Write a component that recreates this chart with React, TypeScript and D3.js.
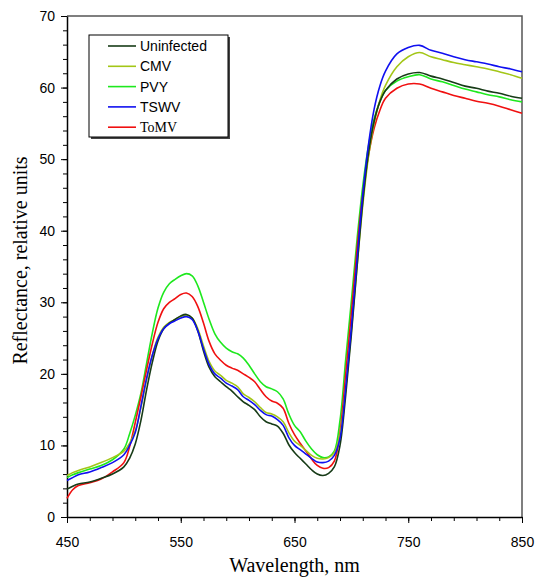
import React, { useRef, useEffect } from "react";
import * as d3 from "d3";

// wavelength grid, nm
const wavelengths = [
  450, 455, 460, 470, 480, 490,
  500, 505, 510, 515, 520, 525, 530, 535, 540, 545, 550, 555, 560, 565, 570, 575, 580, 585, 590, 595,
  600, 605, 610, 615, 620, 625, 630, 635, 640, 645, 650, 655, 660, 665, 670, 675, 680, 685, 690, 695,
  700, 705, 710, 715, 720, 725, 730,
  740, 750, 760, 770, 780, 790, 800, 810, 820, 830, 840, 850,
];

const uninfected = [
  3.9, 4.3, 4.6, 4.9, 5.4, 6.0,
  7.0, 8.2, 10.2, 13.5, 17.8, 21.6, 24.6, 26.3, 27.1, 27.6, 28.1, 28.3, 27.8, 26.0, 23.2, 20.9, 19.6, 18.9, 18.2, 17.6,
  16.8, 16.1, 15.6, 15.0, 14.0, 13.3, 13.0, 12.7, 11.7, 10.1, 9.0, 8.2, 7.4, 6.6, 6.0, 5.8, 6.1, 7.0, 10.0, 17.0,
  25.5, 35.0, 44.0, 50.8, 55.3, 58.0, 59.6,
  61.2, 61.9, 62.1, 61.6, 61.2, 60.7, 60.2, 59.9, 59.5, 59.2, 58.8, 58.5,
];

const cmv = [
  5.8, 6.2, 6.5, 7.0, 7.6, 8.3,
  9.2, 10.3, 12.0, 15.3, 19.2, 22.6, 25.1, 26.5, 27.2, 27.6, 28.0, 28.2, 27.8, 26.3, 23.9, 21.7, 20.4, 19.8, 19.1, 18.7,
  18.2, 17.2, 16.7, 16.1, 15.3, 14.6, 14.4, 14.0, 13.3, 11.8, 10.6, 10.0, 9.3, 8.6, 8.2, 8.1, 8.3, 9.0, 11.5, 18.0,
  26.0, 35.0, 43.5, 50.3, 55.0, 58.2, 60.3,
  62.9, 64.3, 64.9, 64.3, 63.9, 63.5, 63.2, 62.9, 62.6, 62.2, 61.8, 61.3,
];

const pvy = [
  5.5, 5.9, 6.2, 6.7, 7.2, 8.0,
  9.5, 11.6, 14.2, 17.3, 21.5, 25.7, 29.2, 31.4, 32.6, 33.2, 33.7, 34.0, 33.7, 32.3, 30.0, 27.6, 25.6, 24.4, 23.6, 23.1,
  22.8, 22.2, 21.2, 20.0, 18.9, 18.2, 17.9, 17.5, 16.5, 14.4, 12.8, 11.9, 10.6, 9.5, 8.7, 8.3, 8.4, 9.2, 13.5, 22.0,
  30.2, 38.8, 46.2, 51.8, 55.6, 58.0, 59.6,
  60.9, 61.5, 61.8, 61.2, 60.8, 60.3, 59.8, 59.4, 59.0, 58.7, 58.3, 58.0,
];

const tswv = [
  5.1, 5.5, 5.9, 6.3, 6.9, 7.6,
  8.7, 10.0, 11.8, 15.5, 19.4, 22.6, 24.9, 26.3, 27.0, 27.4, 27.8, 28.0, 27.6, 26.0, 23.5, 21.3, 20.0, 19.4, 18.7, 18.3,
  17.8, 16.8, 16.3, 15.7, 14.9, 14.3, 14.1, 13.6, 12.8, 11.1, 10.0, 9.4, 8.8, 8.2, 7.7, 7.6, 7.8, 8.6, 11.0, 18.0,
  26.5, 36.0, 45.0, 52.0, 57.0, 60.2, 62.3,
  64.7, 65.6, 65.9, 65.2, 64.8, 64.3, 63.9, 63.6, 63.3, 62.9, 62.6, 62.2,
];

const tomv = [
  2.6, 3.8, 4.4, 4.8, 5.3, 6.3,
  7.6, 9.8, 13.2, 16.8, 20.6, 24.2, 27.2, 29.1, 30.0, 30.5, 31.1, 31.3, 30.8, 29.4, 27.1, 24.5, 22.8, 21.9, 21.2, 20.8,
  20.5, 20.0, 19.5, 18.9, 17.8, 16.8, 16.2, 15.9, 15.2, 13.1, 11.5, 10.3, 9.2, 8.1, 7.2, 6.8, 6.9, 7.8, 11.8, 20.0,
  28.5, 37.5, 45.0, 50.5, 54.3, 56.8, 58.5,
  59.9, 60.5, 60.5, 59.9, 59.4, 58.9, 58.5, 58.1, 57.8, 57.4, 56.9, 56.4,
];

const seriesNames = ["Uninfected", "CMV", "PVY", "TSWV", "ToMV"];
const seriesValues = [uninfected, cmv, pvy, tswv, tomv];
const seriesColors = ["#173b17", "#a3c617", "#1ee81e", "#1010f0", "#f01010"];
const drawOrder = [2, 4, 1, 0, 3];

const xTicks = [450, 550, 650, 750, 850];
const yTicks = [0, 10, 20, 30, 40, 50, 60, 70];

function ReflectanceChart() {
  const svgRef = useRef<SVGSVGElement | null>(null);

  useEffect(() => {
    const width = 535;
    const height = 580;
    const margin = { top: 16, right: 13, bottom: 63, left: 67 };

    const svg = d3.select(svgRef.current).attr("width", width).attr("height", height);
    svg.selectAll("*").remove();

    const x = d3.scaleLinear().domain([450, 850]).range([margin.left, width - margin.right]);
    const y = d3.scaleLinear().domain([0, 70]).range([height - margin.bottom, margin.top]);

    const sans = "'Liberation Sans', Arial, sans-serif";
    const serif = "'Liberation Serif', 'Times New Roman', serif";

    // frame (top/right)
    svg.append("path")
      .attr("d", `M${x(450)},${y(70)}H${x(850)}V${y(0)}`)
      .attr("fill", "none")
      .attr("stroke", "#555")
      .attr("stroke-width", 1.5);

    // minor ticks
    svg.append("g")
      .attr("transform", `translate(0, ${y(0)})`)
      .call(d3.axisBottom(x).tickValues(d3.range(450, 851, 20)).tickSize(4).tickFormat(() => ""))
      .call((g) => g.select(".domain").remove());

    svg.append("g")
      .attr("transform", `translate(${x(450)}, 0)`)
      .call(d3.axisLeft(y).tickValues(d3.range(0, 71, 2)).tickSize(4).tickFormat(() => ""))
      .call((g) => g.select(".domain").remove());

    // major axes
    const xAxis = svg.append("g")
      .attr("transform", `translate(0, ${y(0)})`)
      .call(d3.axisBottom(x).tickValues(xTicks).tickSize(6).tickSizeOuter(0).tickPadding(14));
    xAxis.selectAll("text").style("font-family", sans).style("font-size", "14px").attr("fill", "#000");
    xAxis.select(".domain").attr("stroke-width", 1.5);

    const yAxis = svg.append("g")
      .attr("transform", `translate(${x(450)}, 0)`)
      .call(d3.axisLeft(y).tickValues(yTicks).tickSize(6).tickSizeOuter(0).tickPadding(6));
    yAxis.selectAll("text").style("font-family", sans).style("font-size", "14px").attr("fill", "#000");
    yAxis.select(".domain").attr("stroke-width", 1.5);

    // axis titles
    svg.append("text")
      .attr("x", (x(450) + x(850)) / 2)
      .attr("y", 572)
      .attr("text-anchor", "middle")
      .style("font-family", serif)
      .style("font-size", "20px")
      .text("Wavelength, nm");

    svg.append("text")
      .attr("transform", "rotate(-90)")
      .attr("x", -(y(0) + y(70)) / 2 + 6)
      .attr("y", 27)
      .attr("text-anchor", "middle")
      .style("font-family", serif)
      .style("font-size", "20px")
      .text("Reflectance, relative units");

    // lines
    const line = d3.line<number>()
      .x((_, i) => x(wavelengths[i]))
      .y((d) => y(d))
      .curve(d3.curveCatmullRom.alpha(0.5));

    drawOrder.forEach((k) => {
      svg.append("path")
        .datum(seriesValues[k])
        .attr("d", line)
        .attr("fill", "none")
        .attr("stroke", seriesColors[k])
        .attr("stroke-width", 1.6);
    });

    // legend
    const legend = svg.append("g").attr("transform", "translate(89, 35)");
    legend.append("rect")
      .attr("x", 2).attr("y", 2)
      .attr("width", 139).attr("height", 102)
      .attr("fill", "#444");
    legend.append("rect")
      .attr("width", 139).attr("height", 102)
      .attr("fill", "#fff")
      .attr("stroke", "#000")
      .attr("stroke-width", 1);

    seriesNames.forEach((name, i) => {
      const ly = 11 + i * 20.3;
      legend.append("line")
        .attr("x1", 19).attr("x2", 47)
        .attr("y1", ly).attr("y2", ly)
        .attr("stroke", seriesColors[i])
        .attr("stroke-width", 1.6);
      legend.append("text")
        .attr("x", 51)
        .attr("y", ly + 5)
        .style("font-family", name === "ToMV" ? serif : sans)
        .style("font-size", "14px")
        .text(name);
    });
  }, []);

  return <svg ref={svgRef} style={{ position: "absolute", left: 0, top: 0, background: "#fff" }}></svg>;
}

export default function App() {
  return <ReflectanceChart />;
}
